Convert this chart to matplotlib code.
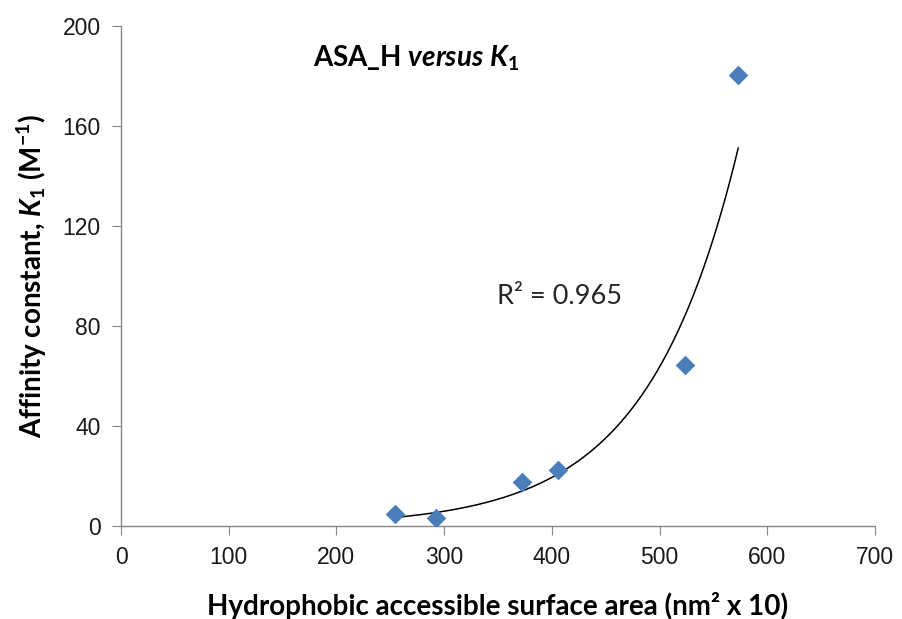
import numpy as np
import matplotlib
matplotlib.use("Agg")
import matplotlib.pyplot as plt

# Data
asa_h = [254, 292, 372, 406, 524, 573]
k1 = [4.8, 3.2, 17.6, 22.4, 64.4, 180.4]
x_ticks = [0, 100, 200, 300, 400, 500, 600, 700]
y_ticks = [0, 40, 80, 120, 160, 200]
r2_text = "R² = 0.965"

plt.rcParams['mathtext.fontset'] = 'custom'
plt.rcParams['mathtext.rm'] = 'Lato:bold'
plt.rcParams['mathtext.it'] = 'Lato:bold:italic'
plt.rcParams['mathtext.bf'] = 'Lato:bold'

fig = plt.figure(figsize=(9.03, 6.19), dpi=100)
ax = fig.add_axes([0.134, 0.150, 0.835, 0.808])

ax.scatter(asa_h, k1, marker='D', s=100, color='#4a7ebb', zorder=3, linewidths=0)

# exponential trendline (Excel-style log fit)
xa = np.array(asa_h, float)
ya = np.array(k1, float)
b, lna = np.polyfit(xa, np.log(ya), 1)
xs = np.linspace(xa.min(), xa.max(), 200)
ax.plot(xs, np.exp(lna) * np.exp(b * xs), color='black', lw=1.1, zorder=2)

ax.set_xlim(0, 700)
ax.set_ylim(0, 200)
ax.set_xticks(x_ticks)
ax.set_yticks(y_ticks)
for s in ['top', 'right']:
    ax.spines[s].set_visible(False)
for s in ['left', 'bottom']:
    ax.spines[s].set_color('#868686')
    ax.spines[s].set_linewidth(1.0)
ax.tick_params(axis='both', direction='out', length=6.5, color='#868686',
               labelsize=16.5, labelcolor='#1a1a1a', pad=8)
for lab in ax.get_xticklabels() + ax.get_yticklabels():
    lab.set_family('Liberation Sans')

ax.set_xlabel("Hydrophobic accessible surface area (nm² x 10)", fontsize=20,
              fontweight='bold', family=['Lato', 'DejaVu Sans'], labelpad=16)
ax.set_ylabel(r"Affinity constant, $\mathit{K}_{1}$ (M$^{-1}$)", fontsize=20,
              fontweight='bold', family=['Lato', 'DejaVu Sans'], labelpad=10)

ax.text(0.391, 0.936, r"ASA_H $\mathit{versus}$ $\mathit{K}_{1}$", transform=ax.transAxes,
        fontsize=20, fontweight='bold', family=['Lato', 'DejaVu Sans'],
        ha='center', va='center')
ax.text(0.582, 0.46, r2_text, transform=ax.transAxes, fontsize=19.5,
        family=['Lato', 'DejaVu Sans'], ha='center', va='center', color='#262626')

fig.savefig("out.png", dpi=100)
